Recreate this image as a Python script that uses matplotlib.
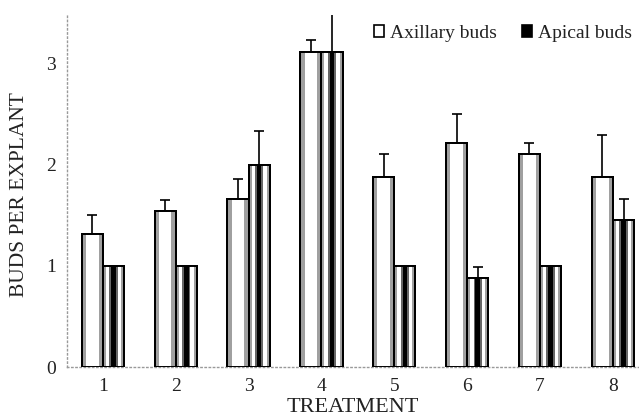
import matplotlib
matplotlib.use("Agg")
import matplotlib.pyplot as plt
import numpy as np
from matplotlib.patches import Rectangle

treatments = ["1", "2", "3", "4", "5", "6", "7", "8"]
axillary = [1.32, 1.54, 1.66, 3.12, 1.88, 2.22, 2.11, 1.88]
axillary_err = [0.18, 0.11, 0.20, 0.11, 0.23, 0.28, 0.11, 0.41]
apical = [1.0, 1.0, 2.0, 3.12, 1.0, 0.88, 1.0, 1.45]
apical_err = [0.0, 0.0, 0.33, 0.46, 0.0, 0.11, 0.0, 0.21]
yticks = [0, 1, 2, 3]

plt.rcParams['font.family'] = ['Liberation Serif', 'DejaVu Serif']

fig = plt.figure(figsize=(6.39, 4.20), dpi=100)
ax = fig.add_axes([0.105, 0.126, 0.893, 0.838])

x = np.arange(1, len(treatments) + 1)
w = 0.29
xa = x - w / 2
xp = x + w / 2

# axillary bars: gray edges, white centre
ax.bar(xa, axillary, width=w, color='#a0a0a0', edgecolor='black', linewidth=1.4, zorder=2)
ax.bar(xa, axillary, width=w * 0.6, color='white', linewidth=0, zorder=3)
# apical bars: gray edges, white band, black centre stripe
ax.bar(xp, apical, width=w, color='#a0a0a0', edgecolor='black', linewidth=1.4, zorder=2)
ax.bar(xp, apical, width=w * 0.72, color='white', linewidth=0, zorder=3)
ax.bar(xp, apical, width=w * 0.4, color='#666666', linewidth=0, zorder=4)
ax.bar(xp, apical, width=w * 0.22, color='black', linewidth=0, zorder=5)
# redraw outlines on top
ax.bar(xa, axillary, width=w, fill=False, edgecolor='black', linewidth=1.4, zorder=6)
ax.bar(xp, apical, width=w, fill=False, edgecolor='black', linewidth=1.4, zorder=6)

ax.errorbar(xa, axillary, yerr=[np.zeros(len(x)), axillary_err], fmt='none',
            ecolor='black', elinewidth=1.2, capsize=3.5, capthick=1.2, zorder=7)
ax.errorbar(xp, apical, yerr=[np.zeros(len(x)), apical_err], fmt='none',
            ecolor='black', elinewidth=1.2, capsize=3.5, capthick=1.2, zorder=7)

ax.set_xlim(0.51, 8.34)
ax.set_ylim(0, 3.48)
ax.set_xticks(x)
ax.set_xticklabels(treatments, fontsize=14)
ax.set_yticks(yticks)
ax.set_yticklabels([str(t) for t in yticks], fontsize=14)
ax.tick_params(axis='both', length=0, pad=8, colors='#222222')

for s in ['top', 'right']:
    ax.spines[s].set_visible(False)
for s in ['left', 'bottom']:
    ax.spines[s].set_linestyle((0, (1, 2)))
    ax.spines[s].set_color('#999999')
    ax.spines[s].set_linewidth(1.0)

ax.set_xlabel('TREATMENT', fontsize=16, color='#222222')
ax.xaxis.set_label_coords(0.5, -0.088)
ax.set_ylabel('BUDS PER EXPLANT', fontsize=15.5, color='#222222')
ax.yaxis.set_label_coords(-0.066, 0.49)

h1 = Rectangle((0, 0), 1, 1, facecolor='white', edgecolor='black', linewidth=1.2)
h2 = Rectangle((0, 0), 1, 1, facecolor='black', edgecolor='black', linewidth=1.2)
leg = ax.legend([h1, h2], ['Axillary buds', 'Apical buds'], loc='upper right',
                bbox_to_anchor=(1.01, 1.005), ncol=2, frameon=False, fontsize=14,
                handlelength=0.5, handleheight=0.6, handletextpad=0.3,
                columnspacing=1.3, borderaxespad=0.2)
for t in leg.get_texts():
    t.set_color('#222222')

fig.savefig('out.png', dpi=100)
